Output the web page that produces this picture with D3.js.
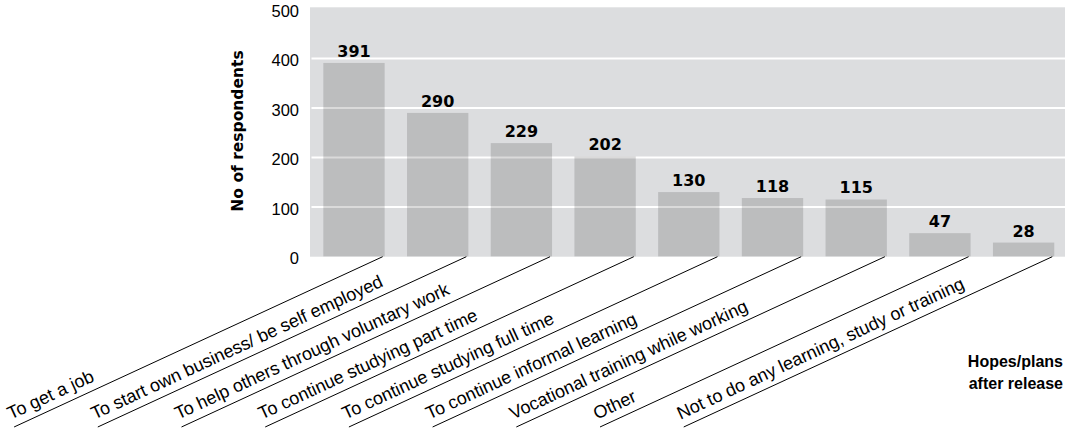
<!DOCTYPE html>
<html>
<head>
<meta charset="utf-8">
<script src="https://cdn.jsdelivr.net/npm/d3@7"></script>
<style>
  html, body { margin: 0; padding: 0; background: #fff; }
  svg { display: block; }
</style>
</head>
<body>
<svg id="chart" width="1065" height="434"></svg>
<script>
const categories = [
  "To get a job",
  "To start own business/ be self employed",
  "To help others through voluntary work",
  "To continue studying part time",
  "To continue studying full time",
  "To continue informal learning",
  "Vocational training while working",
  "Other",
  "Not to do any learning, study or training"
];
const values = [391, 290, 229, 202, 130, 118, 115, 47, 28];
const yTicks = [0, 100, 200, 300, 400, 500];
const yTitle = "No of respondents";
const xTitleLines = ["Hopes/plans", "after release"];

const svg = d3.select("#chart");

const plotLeft = 310, plotRight = 1065, plotTop = 7.3, plotBottom = 256.7;

const x = d3.scaleBand()
  .domain(categories)
  .range([310, 1067.6])
  .paddingInner(0.267)
  .paddingOuter(0.159);

const y = d3.scaleLinear().domain([0, 500]).range([256.4, 9]);

// background
svg.append("rect")
  .attr("x", plotLeft).attr("y", plotTop)
  .attr("width", plotRight - plotLeft).attr("height", plotBottom - plotTop)
  .attr("fill", "#dcdddf");

// gridlines
svg.append("g").selectAll("line")
  .data(yTicks.filter(t => t > 0 && t < 500))
  .join("line")
  .attr("x1", plotLeft + 1.5).attr("x2", plotRight)
  .attr("y1", d => y(d)).attr("y2", d => y(d))
  .attr("stroke", "#ffffff").attr("stroke-width", 2);

// bars (translucent so gridlines show lightly through)
svg.append("g").selectAll("rect")
  .data(values)
  .join("rect")
  .attr("x", (d, i) => x(categories[i]))
  .attr("y", d => y(d))
  .attr("width", x.bandwidth())
  .attr("height", d => y(0) - y(d))
  .attr("fill", "#000").attr("fill-opacity", 0.145);

// value labels
svg.append("g").selectAll("text")
  .data(values)
  .join("text")
  .attr("x", (d, i) => x(categories[i]) + x.bandwidth() / 2)
  .attr("y", d => y(d) - 6)
  .attr("text-anchor", "middle")
  .attr("font-family", "'DejaVu Sans', sans-serif")
  .attr("font-weight", "bold")
  .attr("font-size", "16px")
  .attr("fill", "#000")
  .text(d => d);

// y axis tick labels
const yAxis = d3.axisLeft(y).tickValues(yTicks).tickSize(0).tickPadding(0);
const gy = svg.append("g").attr("transform", "translate(299,2)").call(yAxis);
gy.select(".domain").remove();
gy.selectAll("text")
  .attr("font-family", "'Liberation Sans', Arial, sans-serif")
  .attr("font-size", "16.5px")
  .attr("fill", "#000");

// y title
svg.append("text")
  .attr("transform", "translate(238,131) rotate(-90)")
  .attr("text-anchor", "middle")
  .attr("dy", "0.35em")
  .attr("font-family", "'DejaVu Sans', sans-serif")
  .attr("font-weight", "bold")
  .attr("font-size", "15.5px")
  .attr("fill", "#000")
  .text(yTitle);

// diagonal category lines and labels
const angleDeg = 24.8;
const theta = angleDeg * Math.PI / 180;
const L = 406;
const dg = svg.append("g");
categories.forEach((c, i) => {
  const x0 = x(c) + x.bandwidth() - 2;
  const y0 = plotBottom;
  const x1 = x0 - L * Math.cos(theta);
  const y1 = y0 + L * Math.sin(theta);
  dg.append("line")
    .attr("x1", x0).attr("y1", y0).attr("x2", x1).attr("y2", y1)
    .attr("stroke", "#000").attr("stroke-width", 1);
  dg.append("text")
    .attr("transform", `translate(${x1},${y1}) rotate(${-angleDeg})`)
    .attr("x", 0).attr("y", -8)
    .attr("font-family", "'Liberation Sans', Arial, sans-serif")
    .attr("font-size", "18px")
    .attr("fill", "#000")
    .text(c);
});

// x title
svg.append("g").selectAll("text")
  .data(xTitleLines)
  .join("text")
  .attr("x", 1063)
  .attr("y", (d, i) => 367 + i * 21.5)
  .attr("text-anchor", "end")
  .attr("font-family", "'Liberation Sans', Arial, sans-serif")
  .attr("font-weight", "bold")
  .attr("font-size", "16px")
  .attr("fill", "#000")
  .text(d => d);
</script>
</body>
</html>
